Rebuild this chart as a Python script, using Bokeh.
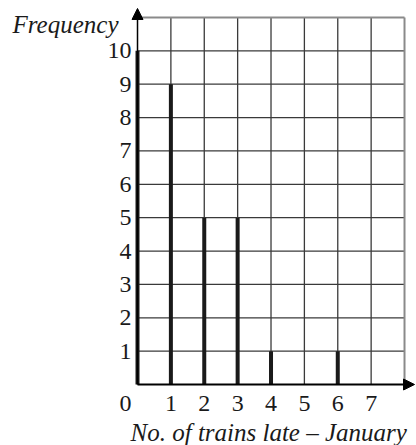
from bokeh.plotting import figure
from bokeh.models import Arrow, NormalHead, Range1d
from bokeh.embed import file_html
from bokeh.resources import INLINE

# data
trains_late = [0, 1, 2, 3, 4, 6]
frequency = [10, 9, 5, 5, 1, 1]
x_ticks = [1, 2, 3, 4, 5, 6, 7]
x_tick_labels = ["1", "2", "3", "4", "5", "6", "7"]
y_ticks = [1, 2, 3, 4, 5, 6, 7, 8, 9, 10]
y_tick_labels = ["1", "2", "3", "4", "5", "6", "7", "8", "9", "10"]
x_grid = [1, 2, 3, 4, 5, 6, 7]
y_grid = [1, 2, 3, 4, 5, 6, 7, 8, 9, 10]
x_max = 8
y_max = 11
x_title = "No. of trains late \u2013 January"
y_title = "Frequency"

FONT = "Liberation Serif"
FS = "24px"
INK = "#1a1a1a"

# frame covers the whole canvas; ranges chosen so that 0 sits at (137, 384)
p = figure(width=416, height=445, output_backend="svg", toolbar_location=None,
           x_range=Range1d(-4.105, 8.359), y_range=Range1d(-1.828, 11.509),
           x_axis_location=None, y_axis_location=None,
           min_border_left=0, min_border_right=0, min_border_top=0, min_border_bottom=0)
p.outline_line_color = None
p.xgrid.visible = False
p.ygrid.visible = False

# grid
p.segment(x0=x_grid, y0=[0] * len(x_grid), x1=x_grid, y1=[y_max] * len(x_grid),
          line_color="#3a3a3a", line_width=1.3)
p.segment(x0=[0] * len(y_grid), y0=y_grid, x1=[x_max] * len(y_grid), y1=y_grid,
          line_color="#3a3a3a", line_width=1.3)
# top and right border
p.segment(x0=[0, x_max], y0=[y_max, 0], x1=[x_max, x_max], y1=[y_max, y_max],
          line_color="#8a8a8a", line_width=2)

# axes with arrows
p.add_layout(Arrow(end=NormalHead(size=11, fill_color="black", line_color="black"),
                   x_start=0, y_start=0, x_end=0, y_end=y_max + 0.27,
                   line_color="black", line_width=1.5))
p.add_layout(Arrow(end=NormalHead(size=11, fill_color="black", line_color="black"),
                   x_start=0, y_start=0, x_end=x_max + 0.3, y_end=0,
                   line_color="black", line_width=2))

# bars (sticks)
p.segment(x0=trains_late, y0=[0] * len(trains_late), x1=trains_late, y1=frequency,
          line_color=INK, line_width=4, line_cap="butt")

# tick labels
p.text(x=[0] * len(y_ticks), y=y_ticks, text=y_tick_labels, x_offset=-6,
       text_align="right", text_baseline="middle",
       text_font={"value": FONT}, text_font_size=FS, text_color=INK)
p.text(x=x_ticks, y=[0] * len(x_ticks), text=x_tick_labels, y_offset=19,
       text_align="center", text_baseline="middle",
       text_font={"value": FONT}, text_font_size=FS, text_color=INK)
# origin label
p.text(x=[0], y=[0], text=["0"], x_offset=-12, y_offset=19,
       text_align="center", text_baseline="middle",
       text_font={"value": FONT}, text_font_size=FS, text_color=INK)

# titles
p.text(x=[0], y=[y_max], text=[y_title], x_offset=-19, y_offset=7,
       text_align="right", text_baseline="alphabetic",
       text_font={"value": FONT}, text_font_size="25px", text_font_style="italic",
       text_color=INK)
p.text(x=[0], y=[0], text=[x_title], x_offset=-7, y_offset=48,
       text_align="left", text_baseline="alphabetic",
       text_font={"value": FONT}, text_font_size="25px", text_font_style="italic",
       text_color=INK)

open("out.html", "w").write(file_html(p, INLINE))
